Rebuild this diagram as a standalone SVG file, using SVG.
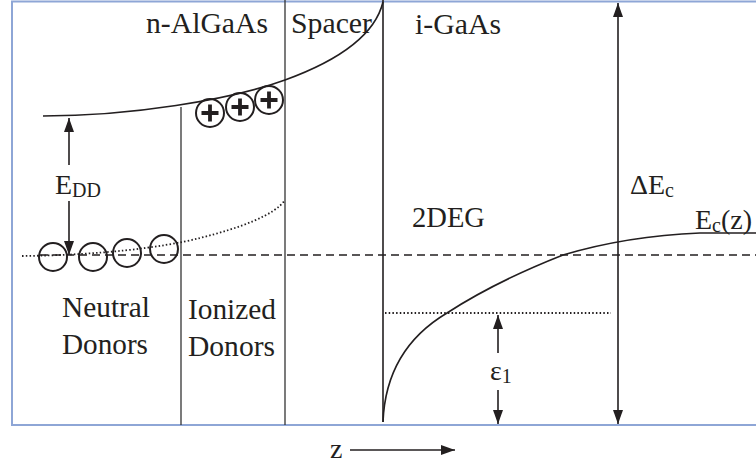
<svg xmlns="http://www.w3.org/2000/svg" width="756" height="465" viewBox="0 0 756 465">
<style>
text{font-family:'Liberation Serif','Times New Roman',Times,serif;fill:#231f20;font-size:28px}
.big{font-size:30px}
.sub{font-size:20px}
.ln{fill:none;stroke:#231f20;stroke-width:1.6}
.thin{fill:none;stroke:#333;stroke-width:1.3}
.dot{fill:none;stroke:#231f20;stroke-width:1.8;stroke-dasharray:1.5,2.2}
.dash{fill:none;stroke:#231f20;stroke-width:1.6;stroke-dasharray:8,5}
.circ{fill:none;stroke:#231f20;stroke-width:2}
.plus{stroke:#231f20;stroke-width:3.8;fill:none}
</style>
<defs>
<marker id="ah" viewBox="0 0 14 10" refX="14" refY="5" markerWidth="14" markerHeight="10" markerUnits="userSpaceOnUse" orient="auto-start-reverse">
<path d="M0,0 L14,5 L0,10 Z" fill="#231f20"/>
</marker>
</defs>
<rect width="756" height="465" fill="#fff"/>
<path d="M757,1.5 H12 V425 H757" fill="none" stroke="#8ea6d6" stroke-width="2"/>
<g id="layers">
<line class="thin" x1="181" y1="107" x2="181" y2="425"/>
<line class="thin" x1="285" y1="0" x2="285" y2="425"/>
<line class="ln" x1="383" y1="0" x2="383" y2="422"/>
</g>
<g id="bands">
<path class="ln" d="M43,116 C130,116 230,100 285,80 C340,60 375,35 383,2"/>
<path class="dot" d="M22,256 C100,255 160,248 200,238 C240,228 275,215 285,200"/>
<line class="dash" x1="40" y1="255" x2="756" y2="255"/>
<path class="ln" d="M383,422 C385,370 410,335 447,313 C490,285 530,268 563,255 C600,244 650,235 700,233 L756,233"/>
<line class="dot" x1="385" y1="313" x2="611" y2="313"/>
</g>
<g id="neutral-donors">
<circle class="circ" cx="53" cy="257" r="14"/>
<circle class="circ" cx="93" cy="257" r="14"/>
<circle class="circ" cx="127" cy="253" r="14"/>
<circle class="circ" cx="164" cy="249" r="14"/>
</g>
<g id="ionized-donors">
<circle class="circ" cx="210" cy="113" r="14"/>
<path class="plus" d="M201.5,113 H218.5 M210,104.5 V121.5"/>
<circle class="circ" cx="240" cy="107" r="14"/>
<path class="plus" d="M231.5,107 H248.5 M240,98.5 V115.5"/>
<circle class="circ" cx="269" cy="100" r="14"/>
<path class="plus" d="M260.5,100 H277.5 M269,91.5 V108.5"/>
</g>
<g id="connectors">
<line class="ln" x1="69" y1="165" x2="69" y2="118" marker-end="url(#ah)"/>
<line class="ln" x1="69" y1="201" x2="69" y2="255" marker-end="url(#ah)"/>
<line class="ln" x1="618" y1="3" x2="618" y2="424" marker-start="url(#ah)" marker-end="url(#ah)"/>
<line class="ln" x1="498" y1="353" x2="498" y2="315" marker-end="url(#ah)"/>
<line class="ln" x1="498" y1="390" x2="498" y2="424" marker-end="url(#ah)"/>
<line class="ln" x1="350" y1="450" x2="455" y2="450" marker-end="url(#ah)"/>
</g>
<g id="labels" font-family="Liberation Serif, serif">
<text class="big" x="146" y="33" textLength="122" lengthAdjust="spacingAndGlyphs">n-AlGaAs</text>
<text class="big" x="291" y="33" textLength="81" lengthAdjust="spacingAndGlyphs">Spacer</text>
<text class="big" x="415" y="34" textLength="86" lengthAdjust="spacingAndGlyphs">i-GaAs</text>
<text x="55" y="194">E<tspan class="sub" dy="3">DD</tspan></text>
<text class="big" x="62" y="317" textLength="88" lengthAdjust="spacingAndGlyphs">Neutral</text>
<text class="big" x="62" y="354" textLength="86" lengthAdjust="spacingAndGlyphs">Donors</text>
<text class="big" x="188" y="319" textLength="88" lengthAdjust="spacingAndGlyphs">Ionized</text>
<text class="big" x="188" y="356" textLength="87" lengthAdjust="spacingAndGlyphs">Donors</text>
<text class="big" x="412" y="227" textLength="73" lengthAdjust="spacingAndGlyphs">2DEG</text>
<text x="630" y="194">ΔE<tspan class="sub" dy="3">c</tspan></text>
<text x="695" y="229">E<tspan class="sub" dy="3">c</tspan><tspan dy="-3">(z)</tspan></text>
<text x="490" y="380">ε<tspan class="sub" dy="3">1</tspan></text>
<text x="330" y="458">z</text>
</g>
</svg>
